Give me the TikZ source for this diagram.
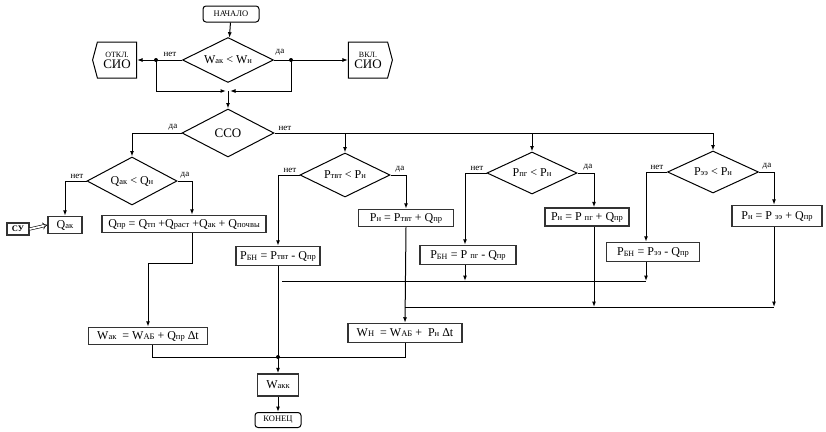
\documentclass[tikz,border=0pt]{standalone}
\usepackage{fontspec}
\setmainfont{Liberation Serif}
\usetikzlibrary{arrows.meta,shapes.geometric,shapes.symbols,calc}
\newcommand\subtx[1]{{\fontsize{8.5}{9}\selectfont #1}}
\begin{document}
\begin{tikzpicture}[x=1pt,y=-1pt, line width=1pt,
  >={Latex[length=5.5pt,width=4pt]},
  term/.style={draw, line width=1pt, rounded corners=3pt, inner sep=1pt, font=\fontsize{8.5}{9}\selectfont},
  dec/.style={diamond, draw, line width=1pt, inner sep=0pt, aspect=2, font=\fontsize{12}{13}\selectfont},
  box/.style={draw=black!80, line width=1.5pt, inner sep=1pt, font=\fontsize{12}{13}\selectfont},
  sig/.style={signal, draw, line width=1pt, signal pointer angle=150, inner sep=1pt, align=center,
     minimum width=44pt, minimum height=36pt},
  lab/.style={font=\fontsize{9}{10}\selectfont, inner sep=1pt, anchor=south},
  dot/.style={circle, fill, inner sep=0pt, minimum size=4pt}
]
\useasboundingbox (0,0) rectangle (826,431);

% nodes
\node[term, minimum width=56pt, minimum height=16pt] (start) at (231,14) {НАЧАЛО};
\node[dec, minimum width=91pt, minimum height=45pt] (d1) at (228,60) {W\subtx{ак} < W\subtx{н}};
\node[sig, signal to=west] (otkl) at (117,60) {{\fontsize{8}{9}\selectfont ОТКЛ.}\\[-1pt]{\fontsize{13}{14}\selectfont СИО}};
\node[sig, signal to=east] (vkl) at (368,60) {{\fontsize{8}{9}\selectfont ВКЛ.}\\[-1pt]{\fontsize{13}{14}\selectfont СИО}};
\node[dec, minimum width=92pt, minimum height=48pt, font=\fontsize{13}{14}\selectfont] (d2) at (228,133) {ССО};
\node[dec, minimum width=90pt, minimum height=48pt] (d3) at (132,181) {Q\subtx{ак} < Q\subtx{н}};
\node[box, minimum width=34pt, minimum height=17pt] (qak) at (65,225) {Q\subtx{ак}};
\node[box, minimum width=22pt, minimum height=12pt, font=\fontsize{8.5}{9}\selectfont\bfseries] (su) at (18,229) {СУ};
\node[box, minimum width=164pt, minimum height=17pt] (qpr) at (184,224) {Q\subtx{пр} = Q\subtx{тп} +Q\subtx{раст} +Q\subtx{ак} + Q\subtx{почвы}};
\node[box, minimum width=119pt, minimum height=17pt] (wak) at (148,336) {W\subtx{ак} \ = W\subtx{АБ} + Q\subtx{пр} Δt};
\node[dec, minimum width=90pt, minimum height=44pt] (d4) at (345,175) {P\subtx{твт} < P\subtx{н}};
\node[dec, minimum width=90pt, minimum height=42pt] (d5) at (532,173) {P\subtx{пг} < P\subtx{н}};
\node[dec, minimum width=91pt, minimum height=42pt] (d6) at (713,172) {P\subtx{ээ} < P\subtx{н}};
\node[box, minimum width=84pt, minimum height=19pt] (pbn1) at (278,256) {P\textsubscript{БН} = P\subtx{твт} - Q\subtx{пр}};
\node[box, minimum width=95pt, minimum height=17pt] (pn1) at (406,218) {P\subtx{н} = P\subtx{твт} + Q\subtx{пр}};
\node[box, minimum width=96pt, minimum height=19pt] (pbn2) at (468,255) {P\textsubscript{БН} = P \subtx{пг} - Q\subtx{пр}};
\node[box, minimum width=84pt, minimum height=18pt] (pn2) at (587,217) {P\subtx{н} = P \subtx{пг} + Q\subtx{пр}};
\node[box, minimum width=93pt, minimum height=19pt] (pbn3) at (653,252) {P\textsubscript{БН} = P\subtx{ээ} - Q\subtx{пр}};
\node[box, minimum width=90pt, minimum height=21pt] (pn3) at (777,216) {P\subtx{н} = P \subtx{ээ} + Q\subtx{пр}};
\node[box, minimum width=114pt, minimum height=19pt] (wn) at (405,333) {W\subtx{Н} \ = W\subtx{АБ} + \ P\subtx{н} Δt};
\node[box, minimum width=41pt, minimum height=22pt] (wakk) at (278,385) {W\subtx{акк}};
\node[term, minimum width=46pt, minimum height=15pt] (end) at (278,420) {КОНЕЦ};

% helper coordinates
\coordinate (jl) at (156,60);
\coordinate (jr) at (291,60);
\coordinate (m1) at (228,91);
\coordinate (j) at (278,357);
\coordinate (h1l) at (282,281);
\coordinate (h1r) at (646,281);
\coordinate (h2l) at (405,307);
\coordinate (h2r) at (774,307);

% top part
\draw[->] (start) -- (d1);
\draw[->] (d1.west) -- (otkl.east);
\draw[->] (d1.east) -- (vkl.west);
\draw[->] (jl) |- ($(m1)+(-2,0)$);
\draw[->] (jr) |- ($(m1)+(2,0)$);
\draw[->] (m1) -- (d2.north);
\node[dot] at (jl) {};
\node[dot] at (jr) {};
\node[lab] at (170,58) {нет};
\node[lab] at (280,57) {да};

% CCO
\draw[->] (d2.west) -| (d3.north);
\draw[->] (d2.east) -| (d6.north);
\draw[->] (d4.north |- d2.east) -- (d4.north);
\draw[->] (d5.north |- d2.east) -- (d5.north);
\node[lab] at (173,132) {да};
\node[lab] at (285,132) {нет};

% Q branch
\draw[->] (d3.west) -| (qak.north);
\draw[->] (d3.east) -| (192,0 |- qpr.north);
\node[lab] at (77,180) {нет};
\node[lab] at (185,180) {да};
\draw[double, line width=0.6pt, double distance=1.8pt, -{Implies[]}] (su.east) -- (qak.west);
\draw[->] (192,0 |- qpr.south) |- (148,263) -- (wak.north);
\draw (152,0 |- wak.south) |- (j);

% P branches
\draw[->] (d4.west) -| (pbn1.north);
\draw[->] (d4.east) -| (pn1.north);
\node[lab] at (290,174) {нет};
\node[lab] at (400,174) {да};
\draw[->] (d5.west) -| (465,0 |- pbn2.north);
\draw[->] (d5.east) -| (594,0 |- pn2.north);
\node[lab] at (477,172) {нет};
\node[lab] at (588,172) {да};
\draw[->] (d6.west) -| (646,0 |- pbn3.north);
\draw[->] (d6.east) -| (774,0 |- pn3.north);
\node[lab] at (657,171) {нет};
\node[lab] at (767,171) {да};

% lower collectors
\draw[->] (465,0 |- pbn2.south) -- (465,281);
\draw[->] (pbn3.south -| h1r) -- (h1r);
\draw (h1l) -- (h1r);
\draw[->] (pn2.south -| 594,0) -- (594,307);
\draw[->] (pn3.south -| h2r) -- (h2r);
\draw (h2l) -- (h2r);
\draw[->] (pn1.south) -- (wn.north);
\draw (wn.south) |- (j);
\draw (pbn1.south) -- (j);
\draw[->] (j) -- (wakk.north);
\node[dot] at (j) {};
\draw[->] (wakk.south) -- (end.north);
\end{tikzpicture}
\end{document}
